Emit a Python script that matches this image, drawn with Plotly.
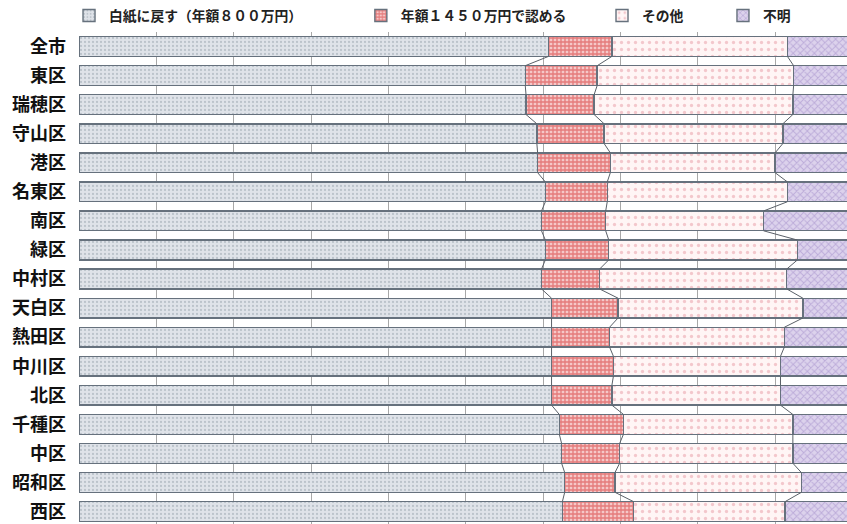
import plotly.graph_objects as go

categories = ["全市", "東区", "瑞穂区", "守山区", "港区", "名東区", "南区", "緑区", "中村区",
              "天白区", "熱田区", "中川区", "北区", "千種区", "中区", "昭和区", "西区"]
series_names = ["白紙に戻す（年額８００万円）", "年額１４５０万円で認める", "その他", "不明"]
s_blank = [60.7, 57.7, 57.8, 59.2, 59.3, 60.3, 59.8, 60.3, 59.8, 61.1, 61.1, 61.1, 61.1, 62.1, 62.4, 62.8, 62.5]
s_1450 = [8.2, 9.3, 8.8, 8.7, 9.4, 8.0, 8.3, 8.2, 7.5, 8.6, 7.5, 8.0, 7.8, 8.3, 7.5, 6.5, 9.2]
s_other = [22.7, 25.4, 25.7, 23.1, 21.3, 23.3, 20.4, 24.4, 24.2, 23.9, 22.6, 21.6, 21.8, 21.9, 22.4, 24.1, 19.6]
s_unknown = [8.4, 7.6, 7.7, 9.0, 10.0, 8.4, 11.5, 7.1, 8.5, 6.4, 8.8, 9.3, 9.3, 7.7, 7.7, 6.6, 8.7]

series = [s_blank, s_1450, s_other, s_unknown]
styles = [
    dict(shape=".", fgcolor="#98a1ab", bgcolor="#dfe3e9", size=4, solidity=0.25),
    dict(shape="+", fgcolor="#d42c2c", bgcolor="#f5c8c8", size=4, solidity=0.55),
    dict(shape=".", fgcolor="#e79aa4", bgcolor="#fff5f5", size=7, solidity=0.18),
    dict(shape="x", fgcolor="#9c86c6", bgcolor="#dcd2ec", size=5, solidity=0.35),
]
legend_ids = ["legend", "legend2", "legend3", "legend4"]
legend_x = [-0.013, 0.367, 0.681, 0.8385]

ypos = list(range(len(categories)))
bar_w = 0.68

fig = go.Figure()
for vals, name, st, lg in zip(series, series_names, styles, legend_ids):
    fig.add_trace(go.Bar(
        y=ypos, x=vals, name=name, orientation="h", width=bar_w,
        marker=dict(color=st["bgcolor"], pattern=st,
                    line=dict(color="#66717d", width=1.4)),
        legend=lg,
    ))

# series lines connecting the segment boundaries of neighbouring bars
running = [0.0] * len(categories)
for vals in series[:-1]:
    running = [r + v for r, v in zip(running, vals)]
    xs, ys = [], []
    for i in range(len(categories) - 1):
        xs += [running[i], running[i + 1], None]
        ys += [i + bar_w / 2, i + 1 - bar_w / 2, None]
    fig.add_trace(go.Scatter(x=xs, y=ys, mode="lines", showlegend=False,
                             line=dict(color="#5a6068", width=1), hoverinfo="skip"))

leg_common = dict(orientation="h", yanchor="top", y=1.065, xanchor="left",
                  font=dict(family="Noto Sans CJK JP", size=13.8, color="#222", weight="bold"),
                  bgcolor="rgba(0,0,0,0)", itemwidth=30)
layout_legends = {}
for lg, lx in zip(legend_ids, legend_x):
    layout_legends[lg] = dict(leg_common, x=lx)

fig.update_layout(
    width=847, height=524,
    barmode="stack", bargap=0.32,
    margin=dict(l=79, r=0, t=32, b=0),
    plot_bgcolor="white", paper_bgcolor="white",
    font=dict(family="Noto Sans CJK JP"),
    xaxis=dict(range=[0, 99.3], dtick=10, showgrid=True, gridcolor="#a8a8a8", gridwidth=1,
               showticklabels=False, zeroline=False, showline=False, ticks="", automargin=False),
    yaxis=dict(range=[16.43, -0.5], tickmode="array", tickvals=ypos, ticktext=categories,
               showgrid=False, zeroline=False, ticks="", ticklabelstandoff=12, automargin=False,
               tickfont=dict(family="Noto Sans CJK JP", size=18, color="#111", weight="bold")),
    **layout_legends,
)

fig.write_html("out.html", config={"displayModeBar": False},
               post_script="document.body.style.margin='0';document.body.style.overflow='hidden';")
